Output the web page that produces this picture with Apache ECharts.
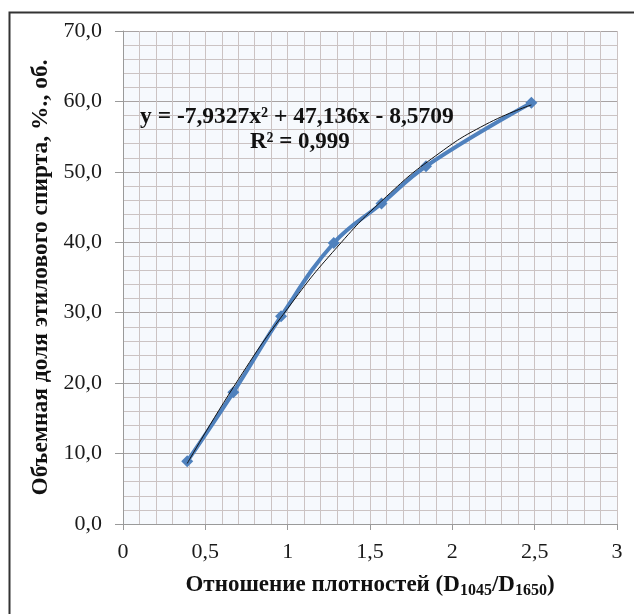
<!DOCTYPE html>
<html><head><meta charset="utf-8">
<script src="https://cdn.jsdelivr.net/npm/echarts@6/dist/echarts.min.js"></script>
<style>html,body{margin:0;padding:0;background:#fff}#c{width:634px;height:614px}</style>
</head><body><div id="c"></div>
<script>
var xValues = [0.39, 0.67, 0.96, 1.28, 1.57, 1.84, 2.48];
var yValues = [8.9, 18.7, 29.5, 39.9, 45.5, 50.8, 59.8];
var trendX = [0.39, 0.7, 1.0, 1.3, 1.6, 1.9, 2.2, 2.48];
var trendY = [8.6, 20.5, 30.6, 39.3, 46.5, 52.3, 56.7, 59.5];
var xTicks = [0, 0.5, 1, 1.5, 2, 2.5, 3];
var yTicks = [0, 10, 20, 30, 40, 50, 60, 70];
var equationText = 'y = -7,9327x² + 47,136x - 8,5709';
var r2Text = 'R² = 0,999';

var serif = '"Liberation Serif", "Times New Roman", serif';
var chart = echarts.init(document.getElementById('c'), null, {renderer: 'canvas'});
function fmtX(v){ return String(v).replace('.', ','); }
function fmtY(v){ return v.toFixed(1).replace('.', ','); }
chart.setOption({
  animation: false,
  backgroundColor: '#ffffff',
  grid: {left: 123, right: 17, top: 31, bottom: 90, show: true, backgroundColor: '#f6f9fd', borderWidth: 0},
  xAxis: {
    type: 'value', min: xTicks[0], max: xTicks[xTicks.length - 1], interval: 0.5,
    axisLine: {show: true, onZero: false, lineStyle: {color: '#9a9a9a', width: 1}},
    axisTick: {show: true, length: 6, lineStyle: {color: '#9a9a9a'}},
    minorTick: {show: false, splitNumber: 5},
    splitLine: {show: true, lineStyle: {color: '#cbc3c3', width: 1}},
    minorSplitLine: {show: true, lineStyle: {color: '#cbc3c3', width: 1}},
    axisLabel: {fontFamily: serif, fontSize: 22, color: '#1a1a1a', margin: 17, formatter: fmtX},
    name: '{b|Отношение плотностей (D}{s|1045}{b|/D}{s|1650}{b|)}',
    nameLocation: 'middle', nameGap: 48,
    nameTextStyle: {
      rich: {
        b: {fontFamily: serif, fontWeight: 'bold', fontSize: 23, color: '#111', lineHeight: 26},
        s: {fontFamily: serif, fontWeight: 'bold', fontSize: 16, color: '#111', lineHeight: 26, padding: [12, 0, 0, 0]}
      }
    }
  },
  yAxis: {
    type: 'value', min: yTicks[0], max: yTicks[yTicks.length - 1], interval: 10,
    axisLine: {show: true, lineStyle: {color: '#9a9a9a', width: 1}},
    axisTick: {show: true, length: 8, lineStyle: {color: '#9a9a9a'}},
    minorTick: {show: false, splitNumber: 5},
    splitLine: {show: true, lineStyle: {color: '#a8a3a3', width: 1}},
    minorSplitLine: {show: true, lineStyle: {color: '#cbc3c3', width: 1}},
    axisLabel: {fontFamily: serif, fontSize: 22, color: '#1a1a1a', margin: 21, formatter: fmtY},
    name: 'Объемная доля этилового спирта, %., об.',
    nameLocation: 'middle', nameGap: 70, nameRotate: 90,
    nameTextStyle: {fontFamily: serif, fontWeight: 'bold', fontSize: 23.5, color: '#111'}
  },
  series: [
    {
      type: 'line', smooth: 0.4, z: 3,
      data: xValues.map(function(x, i){ return [x, yValues[i]]; }),
      lineStyle: {color: '#4f81bd', width: 4},
      itemStyle: {color: '#4f81bd'},
      symbol: 'diamond', symbolSize: 12
    },
    {
      type: 'line', smooth: 0.5, z: 4, symbol: 'none',
      data: trendX.map(function(x, i){ return [x, trendY[i]]; }),
      lineStyle: {color: '#111', width: 1}
    }
  ],
  graphic: [
    {type: 'rect', left: 7, top: 10, z: 100, silent: true,
     shape: {x: 0, y: 0, width: 640, height: 620},
     style: {fill: 'none', stroke: '#333', lineWidth: 2}},
    {type: 'text', left: 140, top: 105, z: 100,
     style: {text: equationText, font: 'bold 23.5px ' + serif, fill: '#111'}},
    {type: 'text', left: 250, top: 131, z: 100,
     style: {text: r2Text, font: 'bold 23px ' + serif, fill: '#111'}}
  ]
});
</script></body></html>
